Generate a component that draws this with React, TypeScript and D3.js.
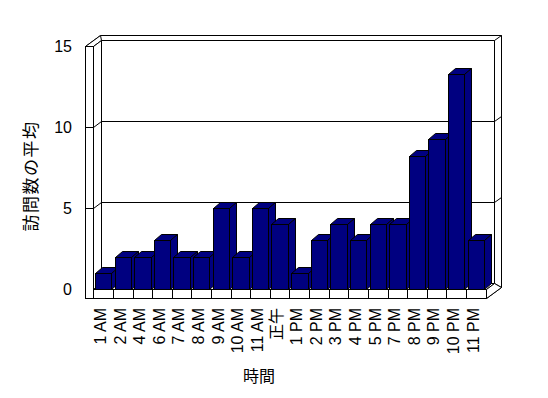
import { scaleBand, scaleLinear } from 'd3'

const width = 548
const height = 398

// 時間ごとの訪問数の平均
const hours = [
  '1 AM', '2 AM', '4 AM', '6 AM', '7 AM', '8 AM', '9 AM', '10 AM', '11 AM', '正午',
  '1 PM', '2 PM', '3 PM', '4 PM', '5 PM', '7 PM', '8 PM', '9 PM', '10 PM', '11 PM',
]
const visits = [1, 2, 2, 3, 2, 2, 5, 2, 5, 4, 1, 3, 4, 3, 4, 4, 8.2, 9.25, 13.3, 3]
const yTicks = [0, 5, 10, 15]

const yTitle = '訪問数の平均'
const xTitle = '時間'

// front plane of the plot
const left = 93
const right = 486
const bottom = 289
const top = 46
const wall = 8 // wall / floor thickness seen from the front
const d1 = { x: 8, y: -6 } // back wall inner face
const d2 = { x: 15, y: -11 } // back wall outer face
const db = { x: 7, y: -6 } // bar depth

const font = '"Liberation Sans", "Noto Sans CJK JP", sans-serif'
const navy = '#000080'

function App() {
  const xScale = scaleBand<string>()
    .domain(hours)
    .range([left, right])
    .paddingInner(0.16)
    .paddingOuter(0.1)

  const yScale = scaleLinear().domain([0, 15]).range([bottom, top])
  const bw = xScale.bandwidth()
  const gap = xScale.step() * 0.16

  const floorBottom = bottom + wall + 1
  const backL = left + d1.x
  const backR = right + d1.x
  const pts = (p: number[][]) => p.map((d) => d.join(',')).join(' ')

  return (
    <svg
      width={width}
      height={height}
      style={{ position: 'absolute', left: 0, top: 0, background: '#fff' }}
      fontFamily={font}
    >
      <g transform="translate(0.5,0.5)" stroke="#000" strokeWidth={1} fill="#fff">
        {/* outer frame */}
        <polygon
          points={pts([
            [left - wall, floorBottom],
            [left - wall, top],
            [left - wall + d2.x, top + d2.y],
            [right + d2.x, top + d2.y],
            [right + d2.x, floorBottom + d2.y],
            [right, floorBottom],
          ])}
        />
        {/* back wall inner face */}
        <rect x={backL} y={top + d1.y} width={backR - backL} height={bottom - top} />
        {/* left wall top + inner face */}
        <polygon
          points={pts([
            [left - wall, top],
            [left, top],
            [backL, top + d1.y],
            [left - wall + d2.x, top + d2.y],
          ])}
        />
        <polygon
          points={pts([
            [left, top],
            [backL, top + d1.y],
            [backL, bottom + d1.y],
            [left, bottom],
          ])}
        />
        {/* left wall front face */}
        <rect x={left - wall} y={top} width={wall} height={floorBottom - top} />
        {/* back wall right side */}
        <polygon
          points={pts([
            [backR, top + d1.y],
            [right + d2.x, top + d2.y],
            [right + d2.x, floorBottom + d2.y],
            [backR, bottom + d1.y],
          ])}
        />
        {/* floor */}
        <polygon
          points={pts([
            [left, bottom],
            [backL, bottom + d1.y],
            [backR, bottom + d1.y],
            [right, bottom],
          ])}
        />
        <rect x={left} y={bottom} width={right - left} height={floorBottom - bottom} />
        <polygon
          points={pts([
            [right, bottom],
            [backR, bottom + d1.y],
            [right + d2.x, floorBottom + d2.y],
            [right, floorBottom],
          ])}
        />
        {/* gridlines */}
        {yTicks
          .filter((t) => t > 0 && t < 15)
          .map((t) => {
            const y = Math.round(yScale(t))
            return (
              <polyline
                key={t}
                fill="none"
                points={pts([
                  [left - wall, y],
                  [left, y],
                  [backL, y + d1.y],
                  [backR, y + d1.y],
                  [right + d2.x, y + d2.y],
                ])}
              />
            )
          })}
        {/* category dividers on the floor */}
        {hours.slice(0, -1).map((h) => {
          const x = Math.round((xScale(h) ?? 0) + bw + gap / 2)
          return <line key={h} x1={x} x2={x} y1={bottom} y2={floorBottom} />
        })}
      </g>

      {/* bars */}
      <g stroke="#000" strokeWidth={1} fill={navy} strokeLinejoin="miter">
        {hours.map((h, i) => {
          const x0 = Math.round(xScale(h) ?? 0) + 0.5
          const x1 = Math.round((xScale(h) ?? 0) + bw) + 0.5
          const y0 = bottom + 0.5
          const y1 = Math.round(yScale(visits[i])) + 0.5
          return (
            <g key={h}>
              <polygon
                points={pts([
                  [x0, y1],
                  [x0 + db.x, y1 + db.y],
                  [x1 + db.x, y1 + db.y],
                  [x1, y1],
                ])}
              />
              <polygon
                points={pts([
                  [x1, y1],
                  [x1 + db.x, y1 + db.y],
                  [x1 + db.x, y0 + db.y],
                  [x1, y0],
                ])}
              />
              <rect x={x0} y={y1} width={x1 - x0} height={y0 - y1} />
            </g>
          )
        })}
      </g>

      {/* y tick labels */}
      {yTicks.map((t) => (
        <text
          key={t}
          x={72}
          y={yScale(t)}
          dy="0.36em"
          textAnchor="end"
          fontSize={16}
          fill="#000"
        >
          {t}
        </text>
      ))}

      {/* x tick labels */}
      {hours.map((h) => (
        <text
          key={h}
          transform={`translate(${(xScale(h) ?? 0) + bw / 2 - 3},${bottom + 19}) rotate(-90)`}
          dy="0.36em"
          textAnchor="end"
          fontSize={16}
          fill="#000"
        >
          {h}
        </text>
      ))}

      <text
        transform={`translate(31,176) rotate(-90)`}
        dy="0.36em"
        textAnchor="middle"
        fontSize={17}
        letterSpacing={1.5}
        fill="#000"
      >
        {yTitle}
      </text>
      <text x={259} y={382} textAnchor="middle" fontSize={16} fill="#000">
        {xTitle}
      </text>
    </svg>
  )
}

export default App
